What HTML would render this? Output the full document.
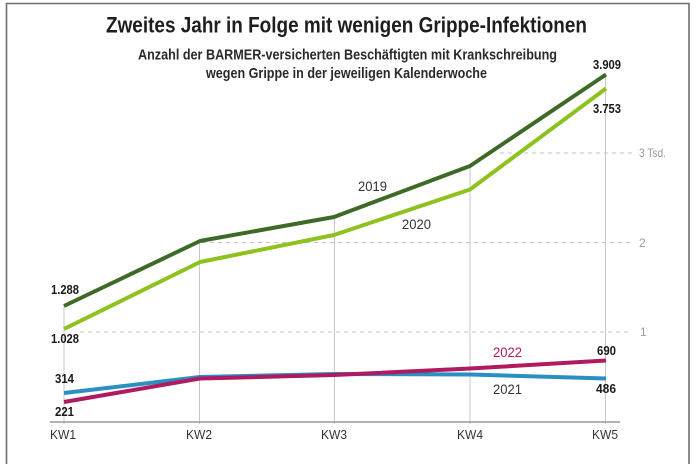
<!DOCTYPE html>
<html><head><meta charset="utf-8"><style>
html,body{margin:0;padding:0;background:#fff;}
svg{display:block;}
text{font-family:"Liberation Sans",sans-serif;}
</style></head><body>
<svg width="696" height="464" viewBox="0 0 696 464" xmlns="http://www.w3.org/2000/svg">
<rect width="696" height="464" fill="#fff"/>
<!-- frame -->
<path d="M6.5 464 V3.5 H689 V464" fill="none" stroke="#6e6e6e" stroke-width="1.6"/>
<!-- title -->
<text x="106" y="32.5" font-size="22" font-weight="bold" fill="#1e1e1e" textLength="481" lengthAdjust="spacingAndGlyphs">Zweites Jahr in Folge mit wenigen Grippe-Infektionen</text>
<text x="138" y="59.5" font-size="15" font-weight="bold" fill="#2a2a2a" textLength="419" lengthAdjust="spacingAndGlyphs">Anzahl der BARMER-versicherten Beschäftigten mit Krankschreibung</text>
<text x="206" y="78" font-size="15" font-weight="bold" fill="#2a2a2a" textLength="281" lengthAdjust="spacingAndGlyphs">wegen Grippe in der jeweiligen Kalenderwoche</text>
<!-- dashed gridlines -->
<g stroke="#c4c4c4" stroke-width="1" stroke-dasharray="4,4">
<line x1="80" y1="332" x2="632" y2="332"/>
<line x1="202" y1="242.5" x2="632" y2="242.5"/>
<line x1="500" y1="153" x2="632" y2="153"/>
</g>
<g font-size="12" fill="#9a9a9a">
<text x="640" y="336">1</text>
<text x="639" y="247">2</text>
<text x="639" y="157" textLength="27" lengthAdjust="spacingAndGlyphs">3 Tsd.</text>
</g>
<!-- vertical gridlines -->
<g stroke="#c8c8c8" stroke-width="1">
<line x1="64" y1="306" x2="64" y2="424"/>
<line x1="199.5" y1="241" x2="199.5" y2="424"/>
<line x1="334.5" y1="217" x2="334.5" y2="424"/>
<line x1="470" y1="166" x2="470" y2="424"/>
<line x1="605.5" y1="75" x2="605.5" y2="424"/>
</g>
<!-- baseline -->
<line x1="50" y1="422" x2="620" y2="422" stroke="#9a9a9a" stroke-width="1.5"/>
<!-- series -->
<g fill="none" stroke-width="4" stroke-linejoin="round" stroke-linecap="butt">
<polyline stroke="#8dc21f" points="64,329 200,262 334,235 470,189.5 606,88.5"/>
<polyline stroke="#3e6a27" points="64,306 200,241 334,217 470,166 606,74.5"/>
<polyline stroke="#2a8fc2" points="64,393 200,377 334,374 470,374.5 606,378.5"/>
<polyline stroke="#b01a5e" points="64,402 200,378.5 334,375 470,368.5 606,360.5"/>
</g>
<!-- series labels -->
<g font-size="13.5" fill="#333">
<text x="358" y="191" textLength="29" lengthAdjust="spacingAndGlyphs">2019</text>
<text x="402" y="229" textLength="29" lengthAdjust="spacingAndGlyphs">2020</text>
<text x="493" y="394" textLength="29" lengthAdjust="spacingAndGlyphs">2021</text>
<text x="493" y="357" fill="#b01a5e" textLength="29" lengthAdjust="spacingAndGlyphs">2022</text>
</g>
<!-- value labels -->
<g font-size="12.5" fill="#1a1a1a" font-weight="bold">
<text x="51" y="294" textLength="28" lengthAdjust="spacingAndGlyphs">1.288</text>
<text x="51" y="343" textLength="28" lengthAdjust="spacingAndGlyphs">1.028</text>
<text x="55" y="383" textLength="19" lengthAdjust="spacingAndGlyphs">314</text>
<text x="55" y="416" textLength="19" lengthAdjust="spacingAndGlyphs">221</text>
<text x="593" y="69" textLength="28" lengthAdjust="spacingAndGlyphs">3.909</text>
<text x="593" y="113" textLength="28" lengthAdjust="spacingAndGlyphs">3.753</text>
<text x="597" y="355" textLength="19" lengthAdjust="spacingAndGlyphs">690</text>
<text x="596" y="393" textLength="20" lengthAdjust="spacingAndGlyphs">486</text>
</g>
<!-- x labels -->
<g font-size="13" fill="#333">
<text x="50" y="439" textLength="26" lengthAdjust="spacingAndGlyphs">KW1</text>
<text x="186" y="439" textLength="26" lengthAdjust="spacingAndGlyphs">KW2</text>
<text x="321" y="439" textLength="26" lengthAdjust="spacingAndGlyphs">KW3</text>
<text x="457" y="439" textLength="26" lengthAdjust="spacingAndGlyphs">KW4</text>
<text x="592" y="439" textLength="26" lengthAdjust="spacingAndGlyphs">KW5</text>
</g>
</svg>
</body></html>
